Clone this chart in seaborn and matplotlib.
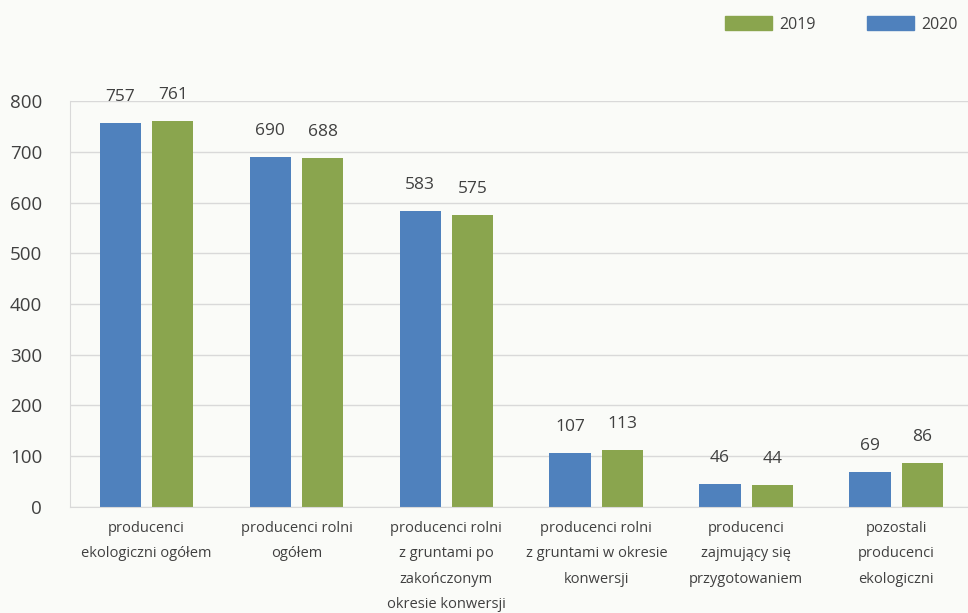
import matplotlib
matplotlib.use("Agg")
import matplotlib.pyplot as plt
import matplotlib.patches as mpatches
import seaborn as sns
import pandas as pd

categories = [
    "producenci\nekologiczni ogółem",
    "producenci rolni\nogółem",
    "producenci rolni\nz gruntami po\nzakończonym\nokresie konwersji",
    "producenci rolni\nz gruntami w okresie\nkonwersji",
    "producenci\nzajmujący się\nprzygotowaniem",
    "pozostali\nproducenci\nekologiczni",
]
values_2020 = [757, 690, 583, 107, 46, 69]
values_2019 = [761, 688, 575, 113, 44, 86]
years = ["2020", "2019"]
colors = {"2020": "#4f81bd", "2019": "#8aa54e"}

df = pd.DataFrame({
    "cat": categories * 2,
    "year": ["2020"] * len(categories) + ["2019"] * len(categories),
    "val": values_2020 + values_2019,
})

sns.set_style("white")
plt.rcParams["font.family"] = ["Open Sans", "DejaVu Sans"]
bg = "#fafbf8"
fig = plt.figure(figsize=(9.68, 6.13), dpi=100, facecolor=bg)
ax = fig.add_axes([0.0723, 0.173, 0.931, 0.662], facecolor=bg)

sns.barplot(data=df, x="cat", y="val", hue="year", hue_order=years,
            palette=colors, width=0.70, gap=0.215, ax=ax, legend=False,
            saturation=1, linewidth=0, edgecolor="none")

for cont in ax.containers:
    ax.bar_label(cont, fmt="%d", padding=13, fontsize=12.5, color="#404040", clip_on=False)

ax.set_ylim(0, 800)
ax.set_xlim(-0.51, 5.49)
ax.set_yticks(range(0, 801, 100))
ax.yaxis.grid(True, color="#d9d9d9", linewidth=1)
ax.set_axisbelow(True)
ax.set_xlabel("")
ax.set_ylabel("")
for s in ["top", "right"]:
    ax.spines[s].set_visible(False)
ax.spines["left"].set_color("#d9d9d9")
ax.spines["bottom"].set_color("#d9d9d9")
ax.tick_params(axis="y", length=0, labelsize=13.5, labelcolor="#404040", pad=20)
ax.tick_params(axis="x", which="major", length=0, labelsize=10.5, labelcolor="#404040", pad=10)
ax.set_xticks([i - 0.5 for i in range(7)], minor=True)
ax.tick_params(axis="x", which="minor", length=5, color="#d9d9d9")
for lbl in ax.get_xticklabels():
    lbl.set_linespacing(1.95)
    lbl.set_verticalalignment("top")

handles = [mpatches.Patch(color=colors["2019"], label="2019"),
           mpatches.Patch(color=colors["2020"], label="2020")]
fig.legend(handles=handles, ncol=2, frameon=False, loc="upper right",
           bbox_to_anchor=(1.006, 1.0), fontsize=11.5, labelcolor="#404040",
           handlelength=2.95, handleheight=1.0, columnspacing=3.2, handletextpad=0.45,
           borderaxespad=0.6)

fig.savefig("out.png", dpi=100, facecolor=bg)
